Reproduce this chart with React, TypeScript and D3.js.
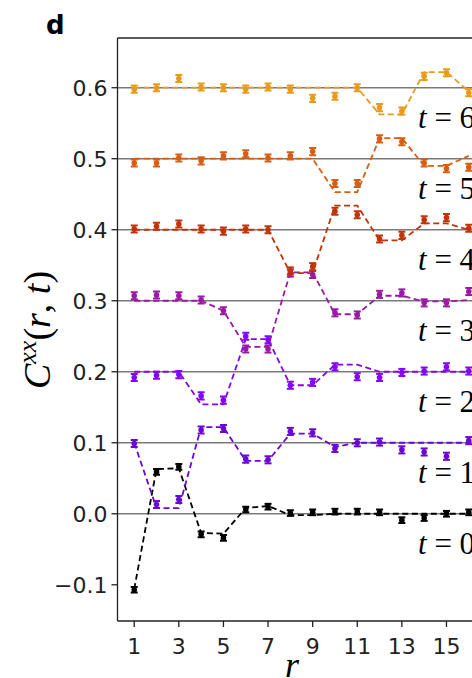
import React from "react";
import * as d3 from "d3";

// ---------- data ----------
const R = [1, 2, 3, 4, 5, 6, 7, 8, 9, 10, 11, 12, 13, 14, 15, 16];
const T_VALUES = [0, 1, 2, 3, 4, 5, 6];

// theory (dashed) curves, already offset by 0.1*t
const LINE_T0 = [-0.106, 0.063, 0.064, -0.027, -0.028, 0.008, 0.011, -0.002, -0.002, 0.0, 0.0, 0.0, 0.0, 0.0, 0.0, 0.0];
const LINE_T1 = [0.1, 0.008, 0.008, 0.122, 0.122, 0.0745, 0.0745, 0.113, 0.113, 0.094, 0.1, 0.1, 0.1, 0.1, 0.1, 0.1];
const LINE_T2 = [0.2, 0.2, 0.2, 0.154, 0.154, 0.246, 0.246, 0.181, 0.181, 0.21, 0.21, 0.2, 0.2, 0.2, 0.2, 0.2];
const LINE_T3 = [0.3, 0.3, 0.3, 0.3, 0.286, 0.235, 0.235, 0.34, 0.34, 0.281, 0.281, 0.307, 0.307, 0.299, 0.299, 0.301];
const LINE_T4 = [0.4, 0.4, 0.4, 0.4, 0.4, 0.4, 0.4, 0.339, 0.339, 0.434, 0.434, 0.385, 0.385, 0.409, 0.409, 0.4];
const LINE_T5 = [0.5, 0.5, 0.5, 0.5, 0.5, 0.5, 0.5, 0.5, 0.5, 0.453, 0.453, 0.529, 0.529, 0.49, 0.49, 0.504];
const LINE_T6 = [0.6, 0.6, 0.6, 0.6, 0.6, 0.6, 0.6, 0.6, 0.6, 0.6, 0.6, 0.5625, 0.5625, 0.622, 0.622, 0.595];

// measured points
const PTS_T0 = [-0.107, 0.059, 0.066, -0.029, -0.034, 0.006, 0.01, 0.001, 0.002, 0.003, 0.003, 0.002, -0.009, -0.006, 0.0, 0.002];
const PTS_T1 = [0.099, 0.013, 0.02, 0.118, 0.12, 0.077, 0.076, 0.116, 0.114, 0.092, 0.1, 0.101, 0.09, 0.087, 0.081, 0.103];
const PTS_T2 = [0.192, 0.195, 0.196, 0.166, 0.16, 0.25, 0.245, 0.181, 0.185, 0.207, 0.193, 0.192, 0.199, 0.201, 0.207, 0.201];
const PTS_T3 = [0.307, 0.308, 0.307, 0.301, 0.286, 0.232, 0.232, 0.339, 0.337, 0.283, 0.28, 0.309, 0.311, 0.297, 0.297, 0.313];
const PTS_T4 = [0.401, 0.405, 0.408, 0.401, 0.398, 0.401, 0.4, 0.342, 0.348, 0.426, 0.421, 0.387, 0.392, 0.414, 0.417, 0.402];
const PTS_T5 = [0.494, 0.494, 0.501, 0.497, 0.504, 0.507, 0.501, 0.504, 0.51, 0.465, 0.465, 0.528, 0.524, 0.494, 0.486, 0.488];
const PTS_T6 = [0.598, 0.6, 0.613, 0.601, 0.6, 0.598, 0.601, 0.598, 0.585, 0.588, 0.6, 0.572, 0.567, 0.616, 0.621, 0.593];

// error bar half-widths per series
const SIGMA = [0.004, 0.005, 0.005, 0.005, 0.005, 0.005, 0.005];

const Y_TICKS = [-0.1, 0.0, 0.1, 0.2, 0.3, 0.4, 0.5, 0.6];
const Y_TICK_LABELS = ["\u22120.1", "0.0", "0.1", "0.2", "0.3", "0.4", "0.5", "0.6"];
const X_TICKS = [1, 3, 5, 7, 9, 11, 13, 15];
const BASELINES = [0.0, 0.1, 0.2, 0.3, 0.4, 0.5, 0.6];

const LINES = [LINE_T0, LINE_T1, LINE_T2, LINE_T3, LINE_T4, LINE_T5, LINE_T6];
const POINTS = [PTS_T0, PTS_T1, PTS_T2, PTS_T3, PTS_T4, PTS_T5, PTS_T6];
const COLORS = ["#000000", "#6a06d6", "#8406f4", "#9a1aa4", "#c0340a", "#d65e12", "#e89a1e"];

export default function App() {
  const W = 472;
  const H = 678;
  const x = d3.scaleLinear().domain([0.25, 16.75]).range([117.5, 485.5]);
  const y = d3.scaleLinear().domain([-0.151, 0.67]).range([621, 38]);
  const left = 117.5;
  const top = y(0.67);
  const bottom = y(-0.151);
  const right = x(16.75);

  const lineGen = d3
    .line<number>()
    .x((_, i) => x(R[i]))
    .y((d) => y(d));

  const sans = "'DejaVu Sans', sans-serif";
  const serif = "'Liberation Serif', 'DejaVu Serif', serif";

  return (
    <svg
      width={W}
      height={H}
      style={{ position: "absolute", left: 0, top: 0, background: "#fff" }}
    >
      <defs>
        <clipPath id="plot">
          <rect x={left} y={top} width={right - left} height={bottom - top} />
        </clipPath>
      </defs>
      <rect x={0} y={0} width={W} height={H} fill="#fff" />

      {/* baselines */}
      {BASELINES.map((b) => (
        <line key={b} x1={left} x2={right} y1={y(b)} y2={y(b)} stroke="#7a7a7a" strokeWidth={1.4} />
      ))}

      <g clipPath="url(#plot)">
        {T_VALUES.map((t) => (
          <path
            key={"l" + t}
            d={lineGen(LINES[t]) || ""}
            fill="none"
            stroke={COLORS[t]}
            strokeWidth={1.8}
            strokeDasharray="6,3.5"
          />
        ))}
        {T_VALUES.map((t) => (
          <g key={"p" + t} stroke={COLORS[t]} fill={COLORS[t]}>
            {POINTS[t].map((v, i) => {
              const cx = x(R[i]);
              const y1 = y(v - SIGMA[t]);
              const y2 = y(v + SIGMA[t]);
              return (
                <g key={i}>
                  <line x1={cx} x2={cx} y1={y1} y2={y2} strokeWidth={2.2} />
                  <line x1={cx - 3.5} x2={cx + 3.5} y1={y1} y2={y1} strokeWidth={2} />
                  <line x1={cx - 3.5} x2={cx + 3.5} y1={y2} y2={y2} strokeWidth={2} />
                  <circle cx={cx} cy={y(v)} r={2.8} stroke="none" />
                </g>
              );
            })}
          </g>
        ))}
      </g>

      {/* t labels */}
      {T_VALUES.map((t) => (
        <text key={"t" + t} x={418} y={y(BASELINES[t]) + 40} fontFamily={serif} fontSize={31} fill="#000">
          <tspan fontStyle="italic">t</tspan>
          <tspan> = {t}</tspan>
        </text>
      ))}

      {/* spines */}
      <g stroke="#222" strokeWidth={1.3} fill="none">
        <line x1={left} x2={left} y1={top} y2={bottom} />
        <line x1={left} x2={right} y1={top} y2={top} />
        <line x1={left} x2={right} y1={bottom} y2={bottom} />
      </g>

      {/* y ticks */}
      {Y_TICKS.map((v, i) => (
        <g key={"yt" + i}>
          <line x1={left - 6} x2={left} y1={y(v)} y2={y(v)} stroke="#222" strokeWidth={1.3} />
          <text
            x={left - 10}
            y={y(v)}
            dy="0.36em"
            textAnchor="end"
            fontFamily={sans}
            fontSize={22}
            fill="#222"
          >
            {Y_TICK_LABELS[i]}
          </text>
        </g>
      ))}

      {/* x ticks */}
      {X_TICKS.map((v) => (
        <g key={"xt" + v}>
          <line x1={x(v)} x2={x(v)} y1={bottom} y2={bottom + 6} stroke="#222" strokeWidth={1.3} />
          <text x={x(v)} y={bottom + 33} textAnchor="middle" fontFamily={sans} fontSize={22} fill="#222">
            {v}
          </text>
        </g>
      ))}

      {/* axis labels */}
      <text x={292} y={677} textAnchor="middle" fontFamily={serif} fontStyle="italic" fontSize={36} fill="#000">
        r
      </text>
      <text
        transform="translate(50,330) rotate(-90)"
        textAnchor="middle"
        fontFamily={serif}
        fontSize={38}
        fill="#000"
      >
        <tspan fontStyle="italic">C</tspan>
        <tspan fontStyle="italic" fontSize={26} dy={-14}>xx</tspan>
        <tspan dy={14}>(</tspan>
        <tspan fontStyle="italic">r</tspan>
        <tspan>, </tspan>
        <tspan fontStyle="italic">t</tspan>
        <tspan>)</tspan>
      </text>

      {/* panel letter */}
      <text x={46} y={34} fontFamily={sans} fontWeight="bold" fontSize={26} fill="#000">
        d
      </text>
    </svg>
  );
}
